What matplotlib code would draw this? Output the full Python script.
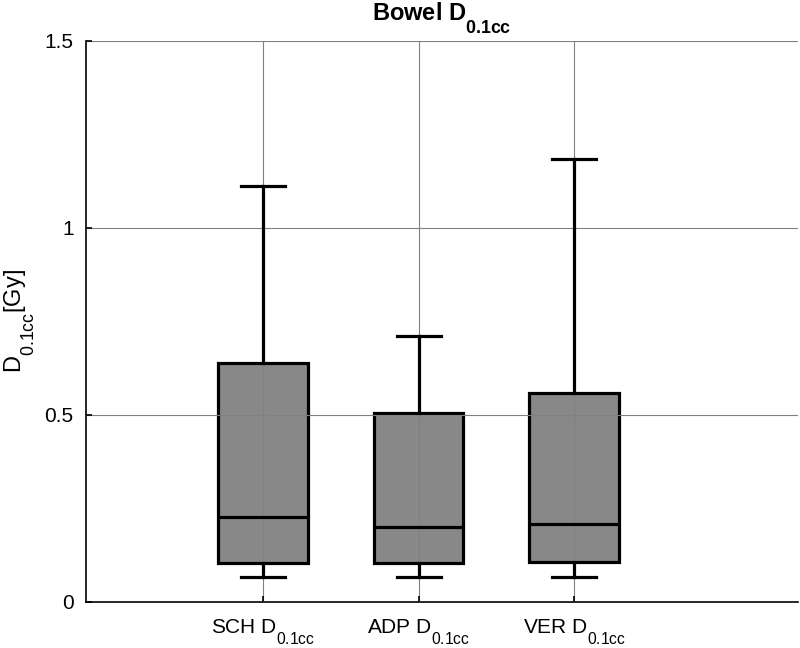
import matplotlib
matplotlib.use("Agg")
import matplotlib.pyplot as plt
import matplotlib._mathtext as mathtext_internals

plt.rcParams['font.family'] = ['Liberation Sans', 'DejaVu Sans']
plt.rcParams['mathtext.fontset'] = 'custom'
plt.rcParams['mathtext.rm'] = 'Liberation Sans'
plt.rcParams['mathtext.bf'] = 'Liberation Sans:bold'
plt.rcParams['mathtext.it'] = 'Liberation Sans'

# MATLAB-like subscripts: a bit bigger and dropped lower than mathtext default
mathtext_internals.SHRINK_FACTOR = 0.75
mathtext_internals.FontConstantsBase.sub1 = 1.0

# box plot summary values (Gy)
labels = ['SCH D$_{0.1cc}$', 'ADP D$_{0.1cc}$', 'VER D$_{0.1cc}$']
whisker_low = [0.068, 0.068, 0.068]
q1 = [0.103, 0.105, 0.107]
medians = [0.228, 0.201, 0.209]
q3 = [0.638, 0.506, 0.559]
whisker_high = [1.111, 0.711, 1.184]

stats = []
for i in range(len(labels)):
    stats.append(dict(whislo=whisker_low[i], q1=q1[i], med=medians[i],
                      q3=q3[i], whishi=whisker_high[i], fliers=[]))

fig = plt.figure(figsize=(8, 6.48), dpi=100)
ax = fig.add_axes([0.1075, 0.071, 0.89, 0.866])

lw = 2.3
ax.bxp(stats, positions=[1, 2, 3], widths=0.576, patch_artist=True,
       showfliers=False,
       boxprops=dict(facecolor='#888888', edgecolor='black', linewidth=lw, zorder=1),
       medianprops=dict(color='black', linewidth=lw, zorder=3),
       whiskerprops=dict(color='black', linewidth=lw, zorder=3),
       capprops=dict(color='black', linewidth=lw, zorder=3),
       capwidths=0.283)

ax.set_xlim(-0.14, 4.44)
ax.set_ylim(0, 1.5)
ax.set_yticks([0, 0.5, 1, 1.5])
ax.set_yticklabels(['0', '0.5', '1', '1.5'])
ax.set_xticks([1, 2, 3])
ax.set_xticklabels(labels)

ax.grid(True, color='#808080', linewidth=0.8)
ax.set_axisbelow(False)
for line in ax.get_xgridlines() + ax.get_ygridlines():
    line.set_zorder(2)

ax.spines['top'].set_visible(False)
ax.spines['right'].set_visible(False)
ax.spines['left'].set_linewidth(1.2)
ax.spines['bottom'].set_linewidth(1.2)
ax.tick_params(direction='in', length=4, width=1.2, labelsize=15)
ax.tick_params(axis='x', pad=11)
ax.tick_params(axis='y', pad=9)

ax.set_ylabel('D$_{0.1cc}$[Gy]', fontsize=17, labelpad=6)
ax.set_title(r'Bowel D$_\mathbf{0.1cc}$', fontsize=17, fontweight='bold', pad=15)

fig.savefig('out.png', dpi=100)
